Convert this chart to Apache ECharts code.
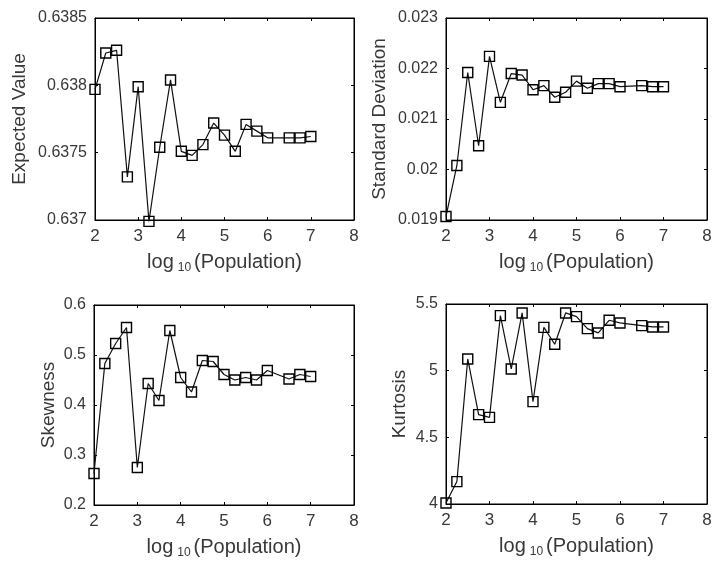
<!DOCTYPE html>
<html><head><meta charset="utf-8">
<script src="https://cdn.jsdelivr.net/npm/echarts@6/dist/echarts.min.js"></script>
<style>html,body{margin:0;padding:0;background:#fff}#c{width:715px;height:568px}</style>
</head><body><div id="c"></div>
<script>
const logPopulation = [2, 2.25, 2.5, 2.75, 3, 3.25, 3.5, 3.75, 4, 4.25, 4.5, 4.75, 5, 5.25, 5.5, 5.75, 6, 6.5, 6.75, 7];
const expectedValue = [0.63797, 0.63824, 0.63826, 0.63732, 0.63799, 0.63699, 0.63754, 0.63804, 0.63751, 0.63748,
  0.63756, 0.63772, 0.63763, 0.63751, 0.63771, 0.63766, 0.63761, 0.63761, 0.63761, 0.63762];
const standardDeviation = [0.01907, 0.02008, 0.02192, 0.02047, 0.02224, 0.02133, 0.02190, 0.02187, 0.02158, 0.02166,
  0.02143, 0.02153, 0.02175, 0.02161, 0.02170, 0.02170, 0.02164, 0.02166, 0.02164, 0.02164];
const skewness = [0.263, 0.483, 0.523, 0.555, 0.275, 0.443, 0.409, 0.549, 0.455, 0.426,
  0.489, 0.487, 0.461, 0.450, 0.455, 0.450, 0.469, 0.452, 0.461, 0.457];
const kurtosis = [4.008, 4.168, 5.088, 4.670, 4.650, 5.413, 5.013, 5.433, 4.768, 5.325,
  5.198, 5.433, 5.405, 5.315, 5.283, 5.378, 5.358, 5.338, 5.328, 5.328];

const xTicks = {min: 2, max: 8, interval: 1};
const panels = [
  {name: 'Expected Value', values: expectedValue, min: 0.637, max: 0.6385, interval: 0.0005, gap: 66,
   grid: {left: 95, top: 18, width: 259, height: 202}},
  {name: 'Standard Deviation', values: standardDeviation, min: 0.019, max: 0.023, interval: 0.001, gap: 57,
   grid: {left: 446, top: 18, width: 261, height: 202}},
  {name: 'Skewness', values: skewness, min: 0.2, max: 0.6, interval: 0.1, gap: 36,
   grid: {left: 94, top: 305, width: 260, height: 200}},
  {name: 'Kurtosis', values: kurtosis, min: 4, max: 5.5, interval: 0.5, gap: 37,
   grid: {left: 446, top: 304, width: 261, height: 200}}
];

const FONT = 'Liberation Sans, Arial, sans-serif';
const TXT = '#383838';
const grids = [], xAxes = [], yAxes = [], series = [];
panels.forEach((p, i) => {
  grids.push(Object.assign({show: true, borderColor: '#000', borderWidth: 1, backgroundColor: '#fff'}, p.grid));
  const tick = {show: true, inside: true, length: 3, lineStyle: {color: '#000', width: 1}};
  xAxes.push({
    type: 'value', gridIndex: i, min: xTicks.min, max: xTicks.max, interval: xTicks.interval,
    axisLine: {show: true, onZero: false, lineStyle: {color: '#000', width: 1}},
    axisTick: tick, splitLine: {show: false},
    axisLabel: {color: TXT, fontSize: 17, fontFamily: FONT, margin: 8},
    name: '{a|log}{b|10}{a|(Population)}', nameLocation: 'middle', nameGap: 30,
    nameTextStyle: {color: TXT, fontFamily: FONT,
      rich: {a: {fontSize: 20, fontFamily: FONT, color: TXT},
             b: {fontSize: 12, fontFamily: FONT, color: TXT, padding: [12, 3, 0, 4]}}}
  });
  xAxes.push({
    type: 'value', gridIndex: i, position: 'top', min: xTicks.min, max: xTicks.max, interval: xTicks.interval,
    axisLine: {show: true, onZero: false, lineStyle: {color: '#000', width: 1}},
    axisTick: tick, axisLabel: {show: false}, splitLine: {show: false}
  });
  yAxes.push({
    type: 'value', gridIndex: i, min: p.min, max: p.max, interval: p.interval,
    axisLine: {show: true, onZero: false, lineStyle: {color: '#000', width: 1}},
    axisTick: tick, splitLine: {show: false},
    axisLabel: {color: TXT, fontSize: 16, fontFamily: FONT, margin: 8},
    name: p.name, nameLocation: 'middle', nameRotate: 90, nameGap: p.gap,
    nameTextStyle: {color: TXT, fontSize: 19, fontFamily: FONT}
  });
  yAxes.push({
    type: 'value', gridIndex: i, position: 'right', min: p.min, max: p.max, interval: p.interval,
    axisLine: {show: true, onZero: false, lineStyle: {color: '#000', width: 1}},
    axisTick: tick, axisLabel: {show: false}, splitLine: {show: false}
  });
  series.push({
    type: 'line', xAxisIndex: i * 2, yAxisIndex: i * 2,
    data: logPopulation.map((x, k) => [x, p.values[k]]),
    symbol: 'rect', symbolSize: 10, showAllSymbol: true,
    lineStyle: {color: '#111', width: 1.2},
    itemStyle: {color: 'transparent', borderColor: '#000', borderWidth: 1.4},
    emphasis: {disabled: true}, animation: false, clip: false
  });
});

const chart = echarts.init(document.getElementById('c'), null, {renderer: 'canvas'});
chart.setOption({backgroundColor: '#fff', animation: false, grid: grids, xAxis: xAxes, yAxis: yAxes, series: series});
</script>
</body></html>
